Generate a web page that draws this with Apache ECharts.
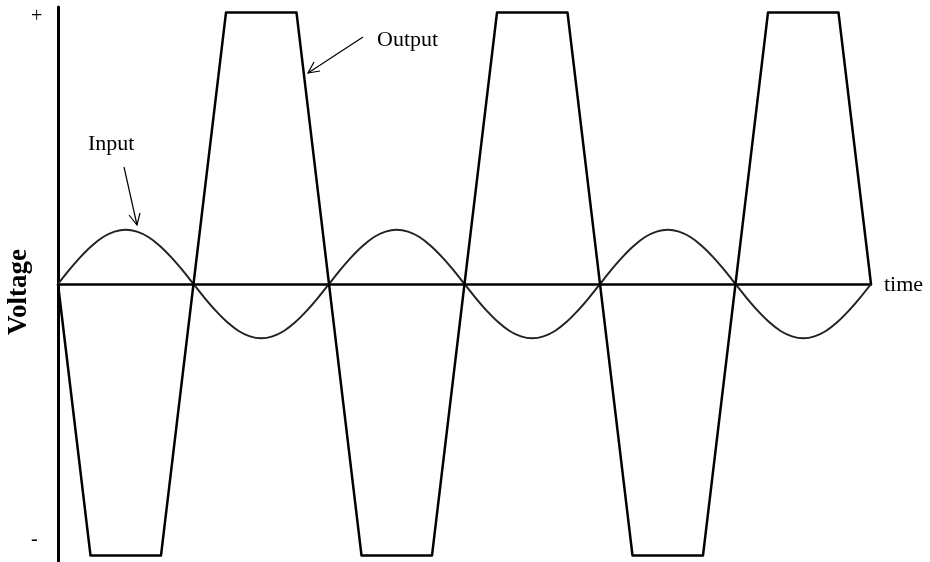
<!DOCTYPE html>
<html>
<head>
<meta charset="utf-8">
<script src="https://cdn.jsdelivr.net/npm/echarts@6.0.0/dist/echarts.min.js"></script>
<style>
  html, body { margin: 0; padding: 0; background: #fff; }
  #main { width: 930px; height: 562px; }
</style>
</head>
<body>
<div id="main"></div>
<script>
// time in half-periods of the input signal
var inputTime = [
  0, 0.083, 0.167, 0.25, 0.333, 0.417, 0.5, 0.583, 0.667, 0.75, 0.833, 0.917,
  1, 1.083, 1.167, 1.25, 1.333, 1.417, 1.5, 1.583, 1.667, 1.75, 1.833, 1.917,
  2, 2.083, 2.167, 2.25, 2.333, 2.417, 2.5, 2.583, 2.667, 2.75, 2.833, 2.917,
  3, 3.083, 3.167, 3.25, 3.333, 3.417, 3.5, 3.583, 3.667, 3.75, 3.833, 3.917,
  4, 4.083, 4.167, 4.25, 4.333, 4.417, 4.5, 4.583, 4.667, 4.75, 4.833, 4.917,
  5, 5.083, 5.167, 5.25, 5.333, 5.417, 5.5, 5.583, 5.667, 5.75, 5.833, 5.917,
  6
];
var inputValues = [
  0, 0.052, 0.1, 0.141, 0.173, 0.193, 0.2, 0.193, 0.173, 0.141, 0.1, 0.052,
  0, -0.052, -0.1, -0.141, -0.173, -0.193, -0.2, -0.193, -0.173, -0.141, -0.1, -0.052,
  0, 0.052, 0.1, 0.141, 0.173, 0.193, 0.2, 0.193, 0.173, 0.141, 0.1, 0.052,
  0, -0.052, -0.1, -0.141, -0.173, -0.193, -0.2, -0.193, -0.173, -0.141, -0.1, -0.052,
  0, 0.052, 0.1, 0.141, 0.173, 0.193, 0.2, 0.193, 0.173, 0.141, 0.1, 0.052,
  0, -0.052, -0.1, -0.141, -0.173, -0.193, -0.2, -0.193, -0.173, -0.141, -0.1, -0.052,
  0
];
var outputTime = [0, 0.24, 0.76, 1.24, 1.76, 2.24, 2.76, 3.24, 3.76, 4.24, 4.76, 5.24, 5.76, 6];
var outputValues = [0, -1, -1, 1, 1, -1, -1, 1, 1, -1, -1, 1, 1, 0];

function zip(xs, ys) {
  var out = [];
  for (var i = 0; i < xs.length; i++) {
    out.push([xs[i], ys[i]]);
  }
  return out;
}

var myChart = echarts.init(document.getElementById('main'));

var serif = '"Liberation Serif", "DejaVu Serif", serif';

var option = {
  backgroundColor: '#fff',
  animation: false,
  grid: { left: 58, right: 59, top: 7, bottom: 1 },
  xAxis: {
    type: 'value',
    min: 0,
    max: 6,
    axisLine: { onZero: true, lineStyle: { color: '#000', width: 2.5 } },
    axisTick: { show: false },
    axisLabel: { show: false },
    splitLine: { show: false }
  },
  yAxis: {
    type: 'value',
    min: -1.02,
    max: 1.02,
    axisLine: { show: true, onZero: false, lineStyle: { color: '#000', width: 3 } },
    axisTick: { show: false },
    axisLabel: { show: false },
    splitLine: { show: false }
  },
  series: [
    {
      name: 'Input',
      type: 'line',
      data: zip(inputTime, inputValues),
      smooth: 0.3,
      showSymbol: false,
      lineStyle: { color: '#222', width: 2 }
    },
    {
      name: 'Output',
      type: 'line',
      data: zip(outputTime, outputValues),
      showSymbol: false,
      lineStyle: { color: '#000', width: 2.5, join: 'round' }
    }
  ],
  graphic: [
    { type: 'text', left: 31, top: 7, style: { text: '+', font: '20px ' + serif, fill: '#000' } },
    { type: 'text', left: 31, top: 530, style: { text: '-', font: '20px ' + serif, fill: '#000' } },
    {
      type: 'text', x: 19, y: 292, rotation: Math.PI / 2,
      style: { text: 'Voltage', font: 'bold 27px ' + serif, fill: '#000', align: 'center', verticalAlign: 'middle' }
    },
    { type: 'text', x: 884, y: 285, style: { text: 'time', font: '22px ' + serif, fill: '#000', verticalAlign: 'middle' } },
    { type: 'text', x: 377, y: 40, style: { text: 'Output', font: '22px ' + serif, fill: '#000', verticalAlign: 'middle' } },
    { type: 'text', x: 88, y: 144, style: { text: 'Input', font: '22px ' + serif, fill: '#000', verticalAlign: 'middle' } },
    // Output arrow
    { type: 'line', shape: { x1: 363, y1: 37, x2: 308, y2: 73 }, style: { stroke: '#000', lineWidth: 1.2 } },
    { type: 'polyline', shape: { points: [[314, 62], [308, 73], [320, 71]] }, style: { stroke: '#000', lineWidth: 1.2, fill: null } },
    // Input arrow
    { type: 'line', shape: { x1: 124, y1: 167, x2: 137, y2: 225 }, style: { stroke: '#000', lineWidth: 1.2 } },
    { type: 'polyline', shape: { points: [[129, 215], [137, 225], [140, 213]] }, style: { stroke: '#000', lineWidth: 1.2, fill: null } }
  ]
};

myChart.setOption(option);
</script>
</body>
</html>
